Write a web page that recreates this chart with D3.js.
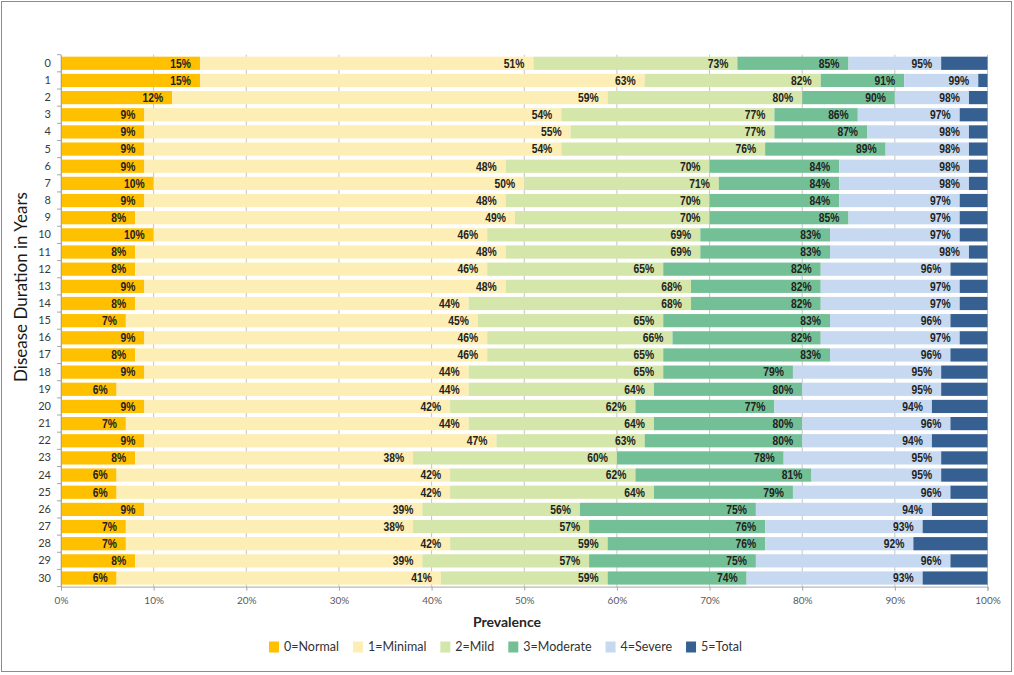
<!DOCTYPE html>
<html>
<head>
<meta charset="utf-8">
<script src="https://cdnjs.cloudflare.com/ajax/libs/d3/7.8.5/d3.min.js"></script>
<style>
body { margin: 0; background: #fff; }
</style>
</head>
<body>
<div id="chart"></div>
<script>
// disease duration (years) on the y axis
var years = ["0","1","2","3","4","5","6","7","8","9","10","11","12","13","14","15","16","17","18","19","20","21","22","23","24","25","26","27","28","29","30"];

// cumulative prevalence (%) at the end of each grade, as labelled on the chart
var normalCum   = [15,15,12,9,9,9,9,10,9,8,10,8,8,9,8,7,9,8,9,6,9,7,9,8,6,6,9,7,7,8,6];
var minimalCum  = [51,63,59,54,55,54,48,50,48,49,46,48,46,48,44,45,46,46,44,44,42,44,47,38,42,42,39,38,42,39,41];
var mildCum     = [73,82,80,77,77,76,70,71,70,70,69,69,65,68,68,65,66,65,65,64,62,64,63,60,62,64,56,57,59,57,59];
var moderateCum = [85,91,90,86,87,89,84,84,84,85,83,83,82,82,82,83,82,83,79,80,77,80,80,78,81,79,75,76,76,75,74];
var severeCum   = [95,99,98,97,98,98,98,98,97,97,97,98,96,97,97,96,97,96,95,95,94,96,94,95,95,96,94,93,92,96,93];

var grades = ["0=Normal","1=Minimal","2=Mild","3=Moderate","4=Severe","5=Total"];
var gradeColors = ["#ffc000","#fdeeb5","#d4e6a9","#74c096","#c6d9f0","#366092"];
var xTicks = [0,10,20,30,40,50,60,70,80,90,100];

var w = 1014, h = 675;
// note: "top" is taken by window.top, so plot edges get their own names
var plotLeft = 61, plotRight = 987.5, plotTop = 54.7, plotBottom = 586.6;

var svg = d3.select("#chart").append("svg")
	.attr("width", w)
	.attr("height", h);

// outer frame
svg.append("rect")
	.attr("x", 1.5).attr("y", 1.5)
	.attr("width", 1010).attr("height", 670)
	.attr("fill", "none")
	.attr("stroke", "#8c8c8c");

// turn the cumulative arrays into one row per year for d3.stack
var cums = [normalCum, minimalCum, mildCum, moderateCum, severeCum];
var rows = years.map(function (y, i) {
	var row = {year: y};
	var prev = 0;
	for (var k = 0; k < cums.length; k++){
		row[grades[k]] = cums[k][i] - prev;
		prev = cums[k][i];
	}
	row[grades[5]] = 100 - prev;
	return row;
});
var series = d3.stack().keys(grades)(rows);

var x = d3.scaleLinear().domain([0, 100]).range([plotLeft, plotRight]);
var y = d3.scaleBand().domain(years).range([plotTop, plotBottom]).paddingInner(0.23).paddingOuter(0.115);

// vertical gridlines (show through the gaps between bars)
svg.append("g").selectAll("line")
	.data(xTicks)
	.enter().append("line")
	.attr("x1", function (d) { return x(d); })
	.attr("x2", function (d) { return x(d); })
	.attr("y1", plotTop)
	.attr("y2", plotBottom)
	.attr("stroke", "#c4c4c4")
	.attr("stroke-width", 1);

var layer = svg.append("g").selectAll("g")
	.data(series)
	.enter().append("g")
	.attr("fill", function (d, i) { return gradeColors[i]; });

layer.selectAll("rect")
	.data(function (d) { return d; })
	.enter().append("rect")
	.attr("x", function (d) { return x(d[0]); })
	.attr("y", function (d) { return y(d.data.year); })
	.attr("width", function (d) { return x(d[1]) - x(d[0]); })
	.attr("height", y.bandwidth());

// cumulative labels, right aligned inside each segment end (not for Total)
// squeezed horizontally to look like a narrow bold face
var labelLayer = svg.append("g").selectAll("g")
	.data(series.slice(0, 5))
	.enter().append("g");

labelLayer.selectAll("text")
	.data(function (d) { return d; })
	.enter().append("text")
	.attr("transform", function (d) {
		return "translate(" + (x(d[1]) - 9) + "," + (y(d.data.year) + y.bandwidth() / 2) + ") scale(0.86,1)";
	})
	.attr("dy", "0.36em")
	.attr("text-anchor", "end")
	.style("font-family", "'Liberation Sans', Arial, sans-serif")
	.style("font-weight", "bold")
	.style("font-size", "12px")
	.style("fill", "#222")
	.text(function (d) { return d[1] + "%"; });

// y axis
var yAxis = svg.append("g")
	.attr("transform", "translate(" + plotLeft + ",0)")
	.call(d3.axisLeft(y).tickSize(0).tickPadding(10));
yAxis.select(".domain").attr("stroke", "#a6a6a6");
yAxis.selectAll("text")
	.style("font-family", "Lato, sans-serif")
	.style("font-size", "11px")
	.style("fill", "#3a3a3a");
// tick marks between categories
var step = y.step();
svg.append("g").selectAll("line")
	.data(d3.range(years.length + 1))
	.enter().append("line")
	.attr("x1", plotLeft - 4).attr("x2", plotLeft)
	.attr("y1", function (d) { return y(years[0]) - step * y.paddingInner() / 2 + d * step; })
	.attr("y2", function (d) { return y(years[0]) - step * y.paddingInner() / 2 + d * step; })
	.attr("stroke", "#a6a6a6");

// x axis
var xAxis = svg.append("g")
	.attr("transform", "translate(0," + plotBottom + ")")
	.call(d3.axisBottom(x).tickValues(xTicks).tickSize(4).tickPadding(6)
		.tickFormat(function (d) { return d + "%"; }));
xAxis.select(".domain").attr("stroke", "#a6a6a6");
xAxis.selectAll("line").attr("stroke", "#a6a6a6");
xAxis.selectAll("text")
	.style("font-family", "Lato, sans-serif")
	.style("font-size", "10px")
	.style("fill", "#5a5a5a");

// axis titles
svg.append("text")
	.attr("x", 507)
	.attr("y", 627)
	.attr("text-anchor", "middle")
	.style("font-family", "Lato, sans-serif")
	.style("font-weight", "bold")
	.style("font-size", "14px")
	.style("fill", "#262626")
	.text("Prevalence");

svg.append("text")
	.attr("transform", "translate(27,287) rotate(-90)")
	.attr("text-anchor", "middle")
	.style("font-family", "Lato, sans-serif")
	.style("font-size", "17px")
	.style("fill", "#1a1a1a")
	.text("Disease Duration in Years");

// legend, centred under the plot
var legend = svg.append("g");
var item = legend.selectAll("g")
	.data(grades)
	.enter().append("g");
item.append("rect")
	.attr("width", 10).attr("height", 11)
	.attr("y", -5.5)
	.attr("fill", function (d, i) { return gradeColors[i]; });
item.append("text")
	.attr("x", 15)
	.attr("dy", "0.35em")
	.style("font-family", "Lato, sans-serif")
	.style("font-size", "12.5px")
	.style("fill", "#333")
	.text(String);
var pos = 0;
item.each(function () {
	var g = d3.select(this);
	g.attr("transform", "translate(" + pos + ",0)");
	pos += 15 + g.select("text").node().getComputedTextLength() + 14;
});
legend.attr("transform", "translate(" + (505.5 - (pos - 14) / 2) + ",647)");
</script>
</body>
</html>
